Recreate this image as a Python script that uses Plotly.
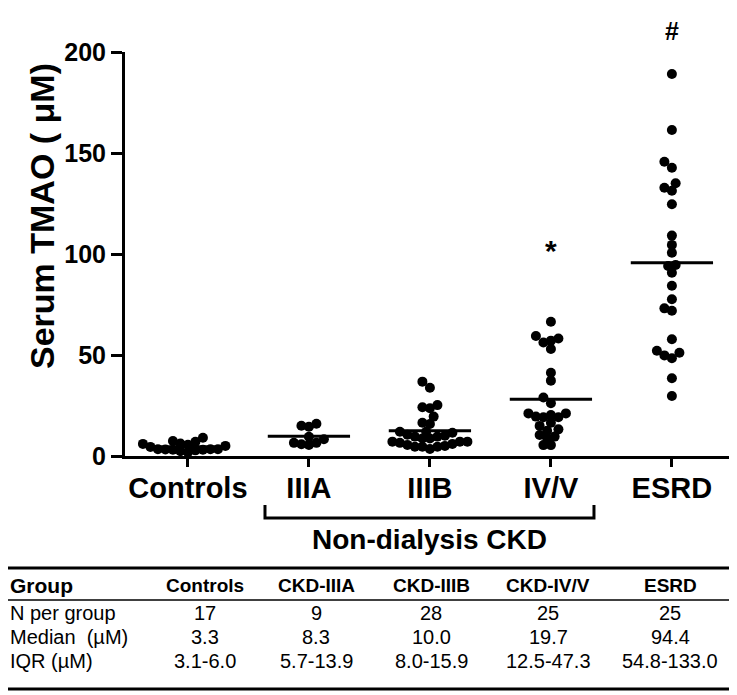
import numpy as np
import plotly.graph_objects as go

# ---------------- data ----------------
categories = ["Controls", "IIIA", "IIIB", "IV/V", "ESRD"]

controls = [1.8, 2.4, 2.8, 3.1, 3.1, 3.2, 3.3, 3.3, 3.3, 4.5, 5.0, 5.6, 6.0, 6.2, 7.0, 7.4, 9.0]
ckd_iiia = [16.0, 15.0, 14.5, 9.5, 8.3, 6.5, 6.5, 5.5, 5.8]
ckd_iiib = [36.8, 33.8, 25.2, 23.6, 24.1, 19.5, 16.5, 15.8, 12.0, 12.0, 11.5, 9.6, 8.7, 8.7,
            9.6, 7.1, 7.1, 7.1, 4.6, 4.6, 4.6, 6.0, 6.5, 5.5, 10.5, 3.5, 5.0, 10.0]
ckd_ivv = [66.5, 59.4, 57.1, 58.2, 56.2, 53.0, 41.2, 37.3, 29.0, 26.1, 21.1, 19.2, 19.5, 20.3,
           19.2, 21.1, 14.9, 13.2, 12.5, 10.4, 8.7, 9.6, 5.4, 5.4, 16.5]
esrd = [189.1, 161.4, 145.7, 142.7, 135.0, 132.8, 131.3, 124.6, 109.1, 104.5, 100.6, 94.6, 94.1,
        90.7, 84.3, 77.6, 73.1, 71.9, 57.8, 51.1, 52.1, 49.8, 48.4, 38.5, 29.7]
group_values = [controls, ckd_iiia, ckd_iiib, ckd_ivv, esrd]

y_ticks = [0, 50, 100, 150, 200]
significance = ["", "", "", "*", "#"]

table_header = ["Group", "Controls", "CKD-IIIA", "CKD-IIIB", "CKD-IV/V", "ESRD"]
row_labels = ["N per group", "Median  (µM)", "IQR (µM)"]
n_per_group = ["17", "9", "28", "25", "25"]
median_text = ["3.3", "8.3", "10.0", "19.7", "94.4"]
iqr_text = ["3.1-6.0", "5.7-13.9", "8.0-15.9", "12.5-47.3", "54.8-133.0"]

# ---------------- layout geometry (page pixels) ----------------
OFF = 8                       # default body margin of the html page
PAGE_W, PAGE_H = 737, 695
W, H = PAGE_W - OFF, PAGE_H - OFF
PLOT_L, PLOT_R, PLOT_T, PLOT_B = 125, 737, 52, 456   # in page pixels
ML, MT = PLOT_L - OFF, PLOT_T - OFF
PW, PH = PLOT_R - PLOT_L, PLOT_B - PLOT_T
MR, MB = W - ML - PW, H - MT - PH
XR = [-0.52, 4.538]
YR = [0, 200]
XPX = PW / (XR[1] - XR[0])
YPX = PH / (YR[1] - YR[0])

FONT = "Liberation Sans, Arial, sans-serif"


def px_x(px):
    return (px - PLOT_L) / PW


def px_y(py):
    return (PLOT_B - py) / PH


def swarm(vals, d=7.5, step=3.75):
    vals = np.asarray(vals, float)
    order = np.argsort(vals)
    placed = []
    offs = np.zeros(len(vals))
    ks = [0]
    for k in range(1, 40):
        ks += [-k, k]
    for i in order:
        y = vals[i] * YPX
        for k in ks:
            x = k * step
            if all((x - a) ** 2 + (y - b) ** 2 >= d * d - 1e-6 for a, b in placed):
                break
        placed.append((x, y))
        offs[i] = x / XPX
    return offs


fig = go.Figure()

for gi, vals in enumerate(group_values):
    offs = swarm(vals)
    fig.add_trace(go.Scatter(
        x=gi + offs, y=vals, mode="markers",
        marker=dict(color="black", size=10, line=dict(width=0)),
        cliponaxis=False, showlegend=False, hoverinfo="y"))

# mean lines
mx, my = [], []
for gi, vals in enumerate(group_values):
    m = float(np.mean(vals))
    mx += [gi - 0.34, gi + 0.34, None]
    my += [m, m, None]
fig.add_trace(go.Scatter(x=mx, y=my, mode="lines", line=dict(color="black", width=3),
                         cliponaxis=False, showlegend=False, hoverinfo="skip"))

annotations = []
# significance marks
sig_pos = {3: 250, 4: 31}
for gi, s in enumerate(significance):
    if s:
        annotations.append(dict(x=gi, y=px_y(sig_pos[gi]), xref="x", yref="paper", text=s,
                                showarrow=False,
                                font=dict(family=FONT, size=30 if s == "*" else 25, color="black",
                                          weight="bold"),
                                xanchor="center", yanchor="middle"))

# y-axis title
annotations.append(dict(x=px_x(42), y=px_y(216), xref="paper", yref="paper",
                        text="Serum TMAO ( μM)", textangle=-90, showarrow=False,
                        font=dict(family=FONT, size=34, color="black", weight="bold"),
                        xanchor="center", yanchor="middle"))

# bracket label
annotations.append(dict(x=2, y=px_y(539), xref="x", yref="paper", text="Non-dialysis CKD",
                        showarrow=False, font=dict(family=FONT, size=28, color="black", weight="bold"),
                        xanchor="center", yanchor="middle"))

# table
col_centers = [205, 316, 431, 548, 670]
hdr_y, row_ys = 585, [613, 637, 661]
annotations.append(dict(x=px_x(8), y=px_y(hdr_y), xref="paper", yref="paper", text=table_header[0],
                        showarrow=False, xanchor="left", yanchor="middle",
                        font=dict(family=FONT, size=21, color="black", weight="bold")))
for cx, h in zip(col_centers, table_header[1:]):
    annotations.append(dict(x=px_x(cx), y=px_y(hdr_y), xref="paper", yref="paper", text=h,
                            showarrow=False, xanchor="center", yanchor="middle",
                            font=dict(family=FONT, size=19, color="black", weight="bold")))
rows = [n_per_group, median_text, iqr_text]
for ry, lab, row in zip(row_ys, row_labels, rows):
    annotations.append(dict(x=px_x(8), y=px_y(ry), xref="paper", yref="paper", text=lab,
                            showarrow=False, xanchor="left", yanchor="middle",
                            font=dict(family=FONT, size=20, color="black")))
    for cx, v in zip(col_centers, row):
        annotations.append(dict(x=px_x(cx), y=px_y(ry), xref="paper", yref="paper", text=v,
                                showarrow=False, xanchor="center", yanchor="middle",
                                font=dict(family=FONT, size=20, color="black")))

shapes = [
    # bracket
    dict(type="path", xref="x", yref="paper",
         path=f"M 0.637 {px_y(505)} L 0.637 {px_y(518)} L 3.356 {px_y(518)} L 3.356 {px_y(505)}",
         line=dict(color="black", width=3)),
    # table lines
    dict(type="line", xref="paper", yref="paper", x0=px_x(OFF), x1=px_x(737), y0=px_y(568), y1=px_y(568),
         line=dict(color="black", width=3)),
    dict(type="line", xref="paper", yref="paper", x0=px_x(OFF), x1=px_x(737), y0=px_y(600), y1=px_y(600),
         line=dict(color="black", width=1.5)),
    dict(type="line", xref="paper", yref="paper", x0=px_x(OFF), x1=px_x(737), y0=px_y(689), y1=px_y(689),
         line=dict(color="black", width=3)),
]

fig.update_layout(
    width=W, height=H,
    margin=dict(l=ML, r=MR, t=MT, b=MB, pad=0, autoexpand=False),
    plot_bgcolor="white", paper_bgcolor="white",
    showlegend=False,
    annotations=annotations, shapes=shapes,
    xaxis=dict(range=XR, tickmode="array", tickvals=list(range(len(categories))), ticktext=categories,
               showline=True, linecolor="black", linewidth=3, ticks="outside", ticklen=8, tickwidth=3,
               tickcolor="black", showgrid=False, zeroline=False, automargin=False,
               ticklabelstandoff=-4,
               tickfont=dict(family=FONT, size=29, color="black", weight="bold")),
    yaxis=dict(range=YR, tickmode="array", tickvals=y_ticks,
               showline=True, linecolor="black", linewidth=3, ticks="outside", ticklen=11, tickwidth=3,
               tickcolor="black", showgrid=False, zeroline=False, automargin=False,
               tickfont=dict(family=FONT, size=25, color="black", weight="bold")),
)

fig.write_html("out.html")
